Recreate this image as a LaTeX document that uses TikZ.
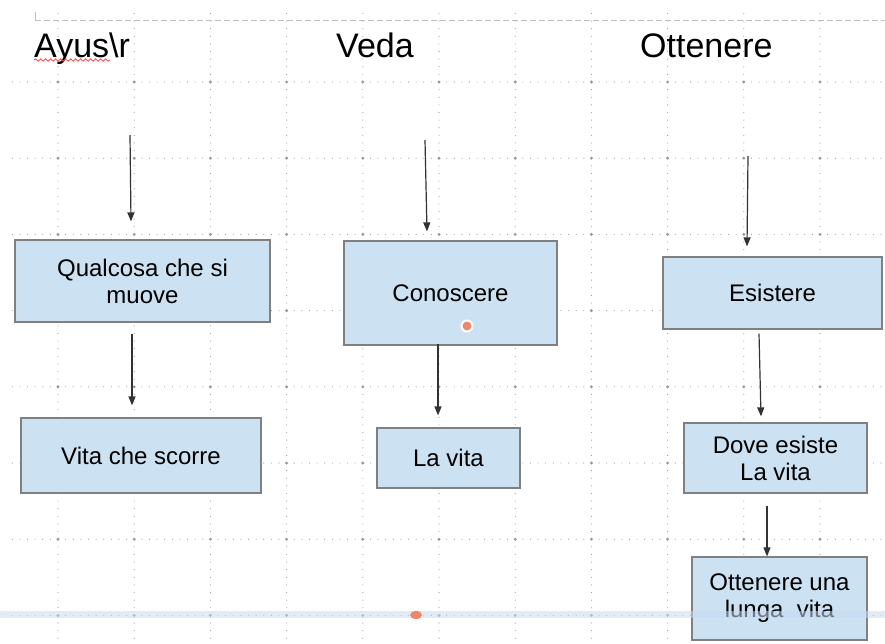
\documentclass[tikz,border=0pt]{standalone}
\usepackage{fontspec}
\setmainfont{Liberation Sans}
\usetikzlibrary{arrows.meta, decorations.pathmorphing}
\definecolor{boxfill}{RGB}{204,226,242}
\definecolor{boxline}{RGB}{128,128,128}
\definecolor{griddot}{RGB}{150,150,150}
\definecolor{guideblue}{RGB}{200,218,242}
\definecolor{handle}{RGB}{238,135,105}
\tikzstyle{concept} = [
    rectangle,
    inner sep=0pt,
    align=center,
    fill=boxfill,
    draw=boxline,
    line width=1.2pt,
    font=\fontsize{24}{27}\selectfont
]
\tikzstyle{heading} = [
    anchor=base west,
    inner sep=0pt,
    font=\fontsize{34}{40}\selectfont
]
\tikzstyle{gridline} = [
    griddot,
    line width=1.1pt,
    line cap=round,
    dash pattern=on 0pt off 7.62pt
]
\tikzstyle{toprule} = [
    black!25,
    line width=1pt,
    dash pattern=on 6pt off 3pt
]
\tikzstyle{spellmark} = [
    red!75,
    line width=0.8pt,
    decorate,
    decoration={snake, amplitude=1.2pt, segment length=5pt}
]
\tikzstyle{arrow} = [black!80, line width=1.2pt, -{Triangle[length=9pt,width=7pt]}]

\begin{document}
\begin{tikzpicture}[x=1pt, y=-1pt]
\useasboundingbox (0,0) rectangle (885,643);

\foreach \i in {0,...,10}
    \draw [gridline] (58+76.2*\i,13.42) -- (58+76.2*\i,643);
\foreach \j in {0,...,7}
    \draw [gridline] (12.28,82+76.2*\j) -- (885,82+76.2*\j);
\foreach \i in {0,...,10}
    \foreach \j in {0,...,7}
        \fill [griddot] (58+76.2*\i,82+76.2*\j) circle (1.6pt);

\draw [toprule] (35,20) -- (885,20);
\draw [black!25, line width=1pt] (35,12) -- (35,20);

\node (ayus) [heading] at (34,57) {Ayus\textbackslash r};
\node (veda) [heading] at (336,57) {Veda};
\node (ottenere) [heading] at (640,57) {Ottenere};
\draw [spellmark] (34,60) -- (110,60);

\node (qualcosa) [concept, minimum width=255pt, minimum height=82pt] at (142.5,281)
{Qualcosa che si\\muove};

\node (scorre) [concept, minimum width=240pt, minimum height=75pt] at (141,455.5)
{Vita che scorre};

\node (conoscere) [concept, minimum width=213pt, minimum height=104pt] at (450.5,293)
{Conoscere};

\node (lavita) [concept, minimum width=143pt, minimum height=60pt] at (448.5,458)
{La vita};

\node (esistere) [concept, minimum width=219pt, minimum height=72pt] at (772.5,293)
{Esistere};

\node (dove) [concept, minimum width=183pt, minimum height=70pt] at (775.5,458)
{Dove esiste\\La vita};

\node (lunga) [concept, minimum width=175pt, minimum height=83pt] at (779.5,598.5)
{Ottenere una\\lunga~ vita};

\coordinate (ayusin) at (130,135);
\coordinate (vedain) at (425,140);
\coordinate (ottenerein) at (748,156);

\draw [arrow] (ayusin) -- ([xshift=-11.5pt, yshift=18pt]qualcosa.north);
\draw [arrow] ([xshift=-10.5pt, yshift=-11pt]qualcosa.south) -- ([xshift=-9pt, yshift=12pt]scorre.north);

\draw [arrow] (vedain) -- ([xshift=-23.5pt, yshift=9pt]conoscere.north);
\draw [arrow] ([xshift=-12.5pt, yshift=2pt]conoscere.south) -- ([xshift=-10.5pt, yshift=12pt]lavita.north);

\draw [arrow] (ottenerein) -- ([xshift=-25.5pt, yshift=10pt]esistere.north);
\draw [arrow] ([xshift=-13.5pt, yshift=-4pt]esistere.south) -- ([xshift=-14.5pt, yshift=6pt]dove.north);
\draw [arrow] ([xshift=-8.5pt, yshift=-12pt]dove.south) -- ([xshift=-12.5pt]lunga.north);

\fill [guideblue, opacity=0.55] (0,611) rectangle (885,618);

\fill [white] (467,326) circle (6.5pt);
\fill [handle] (467,326) circle (4.5pt);
\fill [handle] (416,615) ellipse [x radius=6pt, y radius=4pt];

\end{tikzpicture}
\end{document}
